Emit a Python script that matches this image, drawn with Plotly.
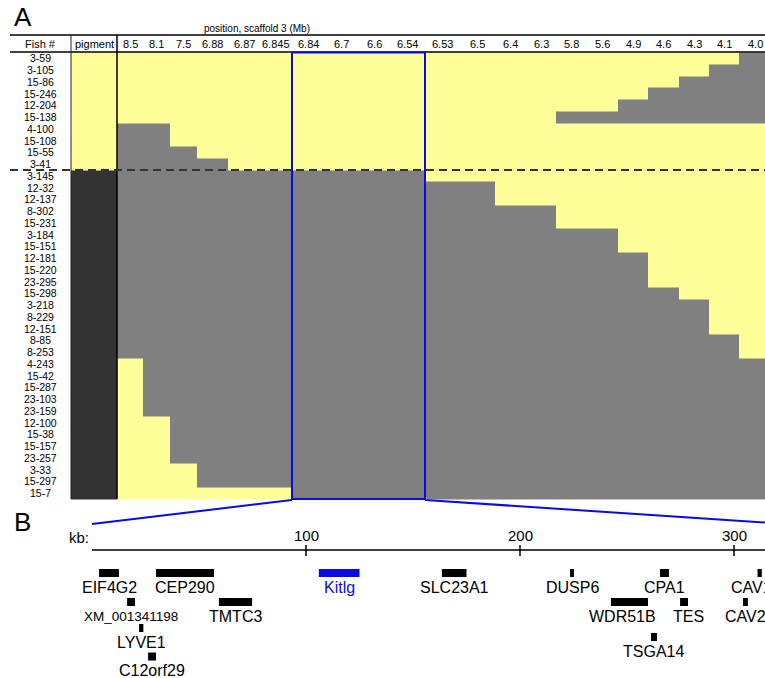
import plotly.graph_objects as go

# ---------------- DATA ----------------
markers = ["8.5", "8.1", "7.5", "6.88", "6.87", "6.845", "6.84", "6.7", "6.6", "6.54",
           "6.53", "6.5", "6.4", "6.3", "5.8", "5.6", "4.9", "4.6", "4.3", "4.1", "4.0"]

fish = ["3-59", "3-105", "15-86", "15-246", "12-204", "15-138", "4-100", "15-108", "15-55", "3-41",
        "3-145", "12-32", "12-137", "8-302", "15-231", "3-184", "15-151", "12-181", "15-220",
        "23-295", "15-298", "3-218", "8-229", "12-151", "8-85", "8-253", "4-243", "15-42",
        "15-287", "23-103", "23-159", "12-100", "15-38", "15-157", "23-257", "3-33", "15-297", "15-7"]

# pigment phenotype: Y = yellow (wild type), D = dark
pigment = ["Y"] * 10 + ["D"] * 28

# genotype per marker: Y = yellow, G = grey
genotypes = [
    "YYYYYYYYYYYYYYYYYYYYG",
    "YYYYYYYYYYYYYYYYYYYGG",
    "YYYYYYYYYYYYYYYYYYGGG",
    "YYYYYYYYYYYYYYYYYGGGG",
    "YYYYYYYYYYYYYYYYGGGGG",
    "YYYYYYYYYYYYYYGGGGGGG",
    "GGYYYYYYYYYYYYYYYYYYY",
    "GGYYYYYYYYYYYYYYYYYYY",
    "GGGYYYYYYYYYYYYYYYYYY",
    "GGGGYYYYYYYYYYYYYYYYY",
    "GGGGGGGGGGYYYYYYYYYYY",
    "GGGGGGGGGGGGYYYYYYYYY",
    "GGGGGGGGGGGGYYYYYYYYY",
    "GGGGGGGGGGGGGGYYYYYYY",
    "GGGGGGGGGGGGGGYYYYYYY",
    "GGGGGGGGGGGGGGGGYYYYY",
    "GGGGGGGGGGGGGGGGYYYYY",
    "GGGGGGGGGGGGGGGGGYYYY",
    "GGGGGGGGGGGGGGGGGYYYY",
    "GGGGGGGGGGGGGGGGGYYYY",
    "GGGGGGGGGGGGGGGGGGYYY",
    "GGGGGGGGGGGGGGGGGGGYY",
    "GGGGGGGGGGGGGGGGGGGYY",
    "GGGGGGGGGGGGGGGGGGGYY",
    "GGGGGGGGGGGGGGGGGGGGY",
    "GGGGGGGGGGGGGGGGGGGGY",
    "YGGGGGGGGGGGGGGGGGGGG",
    "YGGGGGGGGGGGGGGGGGGGG",
    "YGGGGGGGGGGGGGGGGGGGG",
    "YGGGGGGGGGGGGGGGGGGGG",
    "YGGGGGGGGGGGGGGGGGGGG",
    "YYGGGGGGGGGGGGGGGGGGG",
    "YYGGGGGGGGGGGGGGGGGGG",
    "YYGGGGGGGGGGGGGGGGGGG",
    "YYGGGGGGGGGGGGGGGGGGG",
    "YYYGGGGGGGGGGGGGGGGGG",
    "YYYGGGGGGGGGGGGGGGGGG",
    "YYYYYYGGGGGGGGGGGGGGG",
]

# genes (kb)
gene_names = ["EIF4G2", "CEP290", "XM_001341198", "TMTC3", "LYVE1", "C12orf29", "Kitlg",
              "SLC23A1", "DUSP6", "CPA1", "WDR51B", "TES", "TSGA14", "CAV1", "CAV2"]
gene_start = [3.3, 29.9, 16.4, 59.3, 22.0, 26.2, 106.0, 163.5, 223.4, 265.4, 242.5, 274.8, 261.2, 311.0, 304.2]
gene_end = [12.6, 57.0, 20.1, 74.8, 24.0, 29.9, 125.0, 175.0, 225.2, 269.6, 259.8, 278.5, 264.0, 313.0, 306.5]
gene_row = [0, 0, 1, 1, 2, 4, 0, 0, 0, 0, 1, 1, 3, 0, 1]
kb_ticks = [100, 200, 300]

# ---------------- LAYOUT CONSTANTS ----------------
W, H = 765, 678
col_edges = [71, 117, 143, 170, 197, 228, 260, 292, 325, 358, 391, 424, 460, 495,
             526, 556, 587, 618, 648, 679, 709, 739, 770]
row_top, row_bot = 52.5, 499.0
n_rows = len(fish)
row_h = (row_bot - row_top) / n_rows
row_edges = [row_top + i * row_h for i in range(n_rows + 1)]
row_y_map = {0: 573, 1: 602, 2: 628, 3: 637, 4: 656.5}
kb0_px, px_per_kb = 92.0, 2.14

YEL, GRY, DRK = "#FFFF99", "#808080", "#333333"
BLUE = "#0A0AE6"
FONT = "Liberation Sans, Arial, Helvetica, sans-serif"

# ---------------- BUILD ----------------
val = {"Y": 0, "G": 1, "D": 2}
z = []
for p, g in zip(pigment, genotypes):
    z.append([val[p]] + [val[c] for c in g])

fig = go.Figure()
fig.add_trace(go.Heatmap(
    z=z, x=col_edges, y=row_edges,
    zmin=0, zmax=2,
    colorscale=[[0, YEL], [0.5, GRY], [1, DRK]],
    showscale=False, hoverinfo="skip",
))

# gene bars (kb scale on x2)
gene_colors = [BLUE if n == "Kitlg" else "black" for n in gene_names]
fig.add_trace(go.Bar(
    orientation="h",
    base=gene_start,
    x=[e - s for s, e in zip(gene_start, gene_end)],
    y=[row_y_map[r] for r in gene_row],
    width=8,
    marker=dict(color=gene_colors, line=dict(width=0)),
    xaxis="x2", yaxis="y", hoverinfo="skip", showlegend=False,
))

# kb axis line and ticks
kb_max = (W - kb0_px) / px_per_kb
fig.add_trace(go.Scatter(x=[0, kb_max], y=[550, 550], mode="lines",
                         line=dict(color="black", width=1.5),
                         xaxis="x2", yaxis="y", hoverinfo="skip", showlegend=False))
for t in kb_ticks:
    fig.add_trace(go.Scatter(x=[t, t], y=[545, 556], mode="lines",
                             line=dict(color="black", width=1.5),
                             xaxis="x2", yaxis="y", hoverinfo="skip", showlegend=False))

ann = []
shapes = []

# Panel labels
ann.append(dict(x=12, y=17, text="A", xanchor="left", yanchor="middle", showarrow=False,
                font=dict(size=26, family=FONT, color="black"), xref="x", yref="y"))
ann.append(dict(x=12, y=522, text="B", xanchor="left", yanchor="middle", showarrow=False,
                font=dict(size=26, family=FONT, color="black"), xref="x", yref="y"))
ann.append(dict(x=257, y=28, text="position, scaffold 3 (Mb)", showarrow=False,
                font=dict(size=10, family=FONT, color="black"), xref="x", yref="y"))

# Header
ann.append(dict(x=40, y=44, text="Fish #", showarrow=False,
                font=dict(size=11, family=FONT, color="black"), xref="x", yref="y"))
ann.append(dict(x=(col_edges[0] + col_edges[1]) / 2, y=44, text="pigment", showarrow=False,
                font=dict(size=11, family=FONT, color="black"), xref="x", yref="y"))
for i, m in enumerate(markers):
    cx = (col_edges[i + 1] + col_edges[i + 2]) / 2
    if i == len(markers) - 1:
        cx = 755
    ann.append(dict(x=cx, y=44, text=m, showarrow=False,
                    font=dict(size=11, family=FONT, color="black"), xref="x", yref="y"))

# Fish labels
for i, f in enumerate(fish):
    ann.append(dict(x=40, y=row_top + (i + 0.5) * row_h, text=f, showarrow=False,
                    font=dict(size=10.5, family=FONT, color="black"), xref="x", yref="y"))

# Table lines
shapes.append(dict(type="line", x0=10, x1=W, y0=35, y1=35, line=dict(color="black", width=1.5)))
shapes.append(dict(type="line", x0=10, x1=W, y0=52, y1=52, line=dict(color="black", width=1.5)))
shapes.append(dict(type="line", x0=71, x1=71, y0=35, y1=row_bot, line=dict(color="#222", width=1)))
shapes.append(dict(type="line", x0=117, x1=117, y0=35, y1=row_bot, line=dict(color="black", width=1.5)))
dash_y = row_edges[10]
shapes.append(dict(type="line", x0=10, x1=W, y0=dash_y, y1=dash_y,
                   line=dict(color="#333333", width=2, dash="8px,5px")))
# Blue box around kitlg interval
shapes.append(dict(type="rect", x0=292, x1=425, y0=52.5, y1=row_bot,
                   line=dict(color=BLUE, width=2)))
# zoom lines
shapes.append(dict(type="line", x0=292, y0=500, x1=kb0_px, y1=524, line=dict(color=BLUE, width=2)))
shapes.append(dict(type="line", x0=425, y0=500, x1=W, y1=522.5, line=dict(color=BLUE, width=2)))

# kb axis labels
ann.append(dict(x=79, y=537, text="kb:", showarrow=False,
                font=dict(size=15, family=FONT, color="black"), xref="x", yref="y"))
for t in kb_ticks:
    ann.append(dict(x=t, y=535, text=str(t), showarrow=False,
                    font=dict(size=15, family=FONT, color="black"), xref="x2", yref="y"))

# gene labels
label_shift = {"WDR51B": -7, "CAV1": -8, "TES": 4}
for n, s, e, r, c in zip(gene_names, gene_start, gene_end, gene_row, gene_colors):
    size = 13.5 if n == "XM_001341198" else 16
    ann.append(dict(x=(s + e) / 2, y=row_y_map[r] + 14, text=n, showarrow=False,
                    xshift=label_shift.get(n, 0),
                    font=dict(size=size, family=FONT, color=c), xref="x2", yref="y"))

fig.update_layout(
    width=W, height=H,
    margin=dict(l=0, r=0, t=0, b=0),
    paper_bgcolor="white", plot_bgcolor="white",
    xaxis=dict(range=[0, W], visible=False, fixedrange=True),
    yaxis=dict(range=[H, 0], visible=False, fixedrange=True),
    xaxis2=dict(range=[-kb0_px / px_per_kb, kb_max], visible=False, overlaying="x",
                anchor="y", fixedrange=True),
    barmode="overlay",
    showlegend=False,
    annotations=ann,
    shapes=shapes,
)

fig.write_html("out.html",
               config={"displayModeBar": False},
               post_script="document.body.style.margin='0px';document.body.style.overflow='hidden';")
